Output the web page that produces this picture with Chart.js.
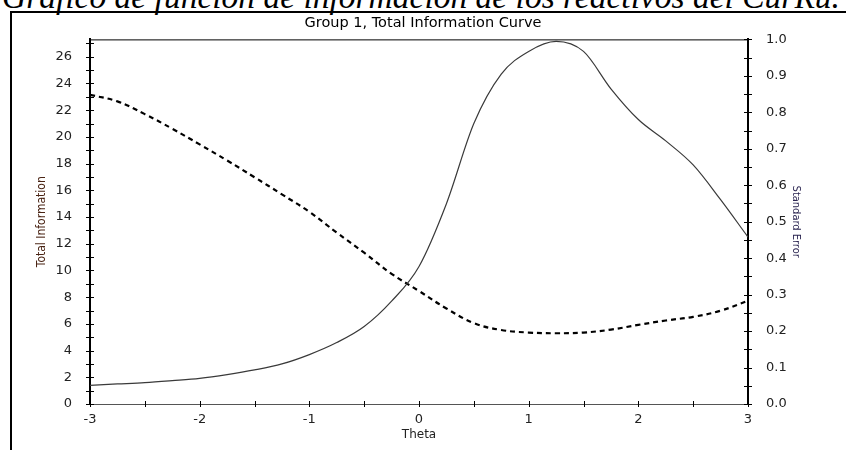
<!DOCTYPE html>
<html>
<head>
<meta charset="utf-8">
<script src="https://cdn.jsdelivr.net/npm/chart.js@4"></script>
<style>
    html, body { margin: 0; padding: 0; background: #fff; overflow: hidden; }
    body { width: 846px; height: 450px; position: relative; }
    #caption {
        position: absolute; left: 2px; top: -20px; white-space: nowrap;
        font: italic 33.5px/33px 'Liberation Serif', 'Times New Roman', serif; color: #000;
    }
    #frame {
        position: absolute; left: 10px; top: 11px; width: 860px; height: 460px;
        border-left: 2px solid #000; border-top: 2px solid #000;
    }
    #infoChart { position: absolute; left: 0; top: 0; }
</style>
</head>
<body>
<div id="caption">Gráfico de función de información de los reactivos del CurRu.</div>
<div id="frame"></div>
<canvas id="infoChart" width="846" height="450"></canvas>
<script>
// 數據
const theta = [-3, -2.75, -2.5, -2.25, -2, -1.75, -1.5, -1.25, -1, -0.75, -0.5, -0.25,
    0, 0.25, 0.5, 0.75, 1, 1.25, 1.5, 1.75, 2, 2.25, 2.5, 2.75, 3];
const totalInfo = [1.4, 1.5, 1.6, 1.75, 1.92, 2.2, 2.55, 3.0, 3.7, 4.6, 5.8, 7.7,
    10.3, 15.0, 21.0, 24.7, 26.4, 27.15, 26.4, 23.6, 21.3, 19.7, 17.9, 15.3, 12.5];
const stdError = [0.848, 0.83, 0.795, 0.755, 0.712, 0.668, 0.622, 0.575, 0.527, 0.47, 0.415, 0.357,
    0.31, 0.262, 0.222, 0.203, 0.196, 0.194, 0.196, 0.204, 0.217, 0.229, 0.239, 0.256, 0.283];
const xTickLabels = ['-3', '-2', '-1', '0', '1', '2', '3'];

const tickFont = { family: "'DejaVu Sans', sans-serif", size: 13 };
const tickColor = '#222';

// 刻度線穿過坐標軸
const crossTicks = {
    id: 'crossTicks',
    afterDraw(chart) {
        const ctx = chart.ctx;
        const area = chart.chartArea;
        ctx.save();
        ctx.strokeStyle = '#000';
        ctx.lineWidth = 1;
        ctx.beginPath();
        ctx.moveTo(area.left, area.top + 0.5);
        ctx.lineTo(area.right, area.top + 0.5);
        ctx.stroke();
        Object.values(chart.scales).forEach(function (scale) {
            scale.ticks.forEach(function (t) {
                const p = Math.round(scale.getPixelForValue(t.value)) + 0.5;
                ctx.beginPath();
                if (scale.axis === 'x') {
                    ctx.moveTo(p, area.bottom - 3);
                    ctx.lineTo(p, area.bottom + 3);
                } else {
                    const ax = scale.position === 'left' ? area.left : area.right;
                    ctx.moveTo(ax - 4, p);
                    ctx.lineTo(ax + 4, p);
                }
                ctx.stroke();
            });
        });
        ctx.restore();
    }
};

new Chart(document.getElementById('infoChart'), {
    type: 'scatter',
    data: {
        datasets: [{
            label: 'Total Information',
            data: theta.map(function (t, i) { return { x: t, y: totalInfo[i] }; }),
            yAxisID: 'y',
            showLine: true,
            borderColor: '#3a3a3a',
            borderWidth: 1.2,
            pointRadius: 0,
            cubicInterpolationMode: 'monotone'
        }, {
            label: 'Standard Error',
            data: theta.map(function (t, i) { return { x: t, y: stdError[i] }; }),
            yAxisID: 'y1',
            showLine: true,
            borderColor: '#000',
            borderWidth: 2.2,
            borderDash: [5, 4],
            pointRadius: 0,
            tension: 0.4
        }]
    },
    options: {
        responsive: false,
        animation: false,
        devicePixelRatio: 1,
        layout: { padding: 0 },
        plugins: {
            legend: { display: false },
            tooltip: { enabled: false },
            title: {
                display: true,
                text: 'Group 1, Total Information Curve',
                color: '#000',
                font: { family: "'DejaVu Sans', sans-serif", size: 14.5, weight: 'normal' },
                padding: { top: 15, bottom: 7 }
            }
        },
        scales: {
            x: {
                type: 'linear',
                min: -3,
                max: 3,
                grid: { display: false },
                border: { display: true, color: '#555', width: 1 },
                ticks: {
                    stepSize: 0.5,
                    autoSkip: false,
                    maxRotation: 0,
                    padding: 0,
                    color: tickColor,
                    font: tickFont,
                    callback: function (v) {
                        const i = xTickLabels.indexOf(String(v));
                        return i >= 0 ? xTickLabels[i] : '';
                    }
                },
                title: {
                    display: true,
                    text: 'Theta',
                    color: '#222',
                    font: { family: "'DejaVu Sans', sans-serif", size: 12 },
                    padding: { top: 0, bottom: 7.8 }
                },
                afterFit: function (s) { s.height = 46; }
            },
            y: {
                position: 'left',
                min: 0,
                max: 27.3,
                grid: { display: false },
                border: { display: true, color: '#000', width: 2 },
                ticks: {
                    stepSize: 1,
                    includeBounds: false,
                    autoSkip: false,
                    padding: 10,
                    color: tickColor,
                    font: tickFont,
                    callback: function (v) { return v % 2 === 0 ? String(v) : ''; }
                },
                title: {
                    display: true,
                    text: 'Total Information',
                    color: '#4a2414',
                    font: { family: "'DejaVu Sans Condensed', sans-serif", size: 12 },
                    padding: { top: 34.8, bottom: 0 }
                },
                afterFit: function (s) { s.width = 90; }
            },
            y1: {
                position: 'right',
                min: 0,
                max: 1,
                grid: { display: false },
                border: { display: true, color: '#000', width: 2 },
                ticks: {
                    stepSize: 0.05,
                    autoSkip: false,
                    padding: 10,
                    color: tickColor,
                    font: tickFont,
                    callback: function (v) {
                        const k = Math.round(v * 20);
                        return k % 2 === 0 ? (k / 20).toFixed(1) : '';
                    }
                },
                title: {
                    display: true,
                    text: 'Standard Error',
                    color: '#2a2450',
                    font: { family: "'DejaVu Sans Condensed', sans-serif", size: 11 },
                    padding: { top: 43.4, bottom: 0 }
                },
                afterFit: function (s) { s.width = 98; }
            }
        }
    },
    plugins: [crossTicks]
});
</script>
</body>
</html>
